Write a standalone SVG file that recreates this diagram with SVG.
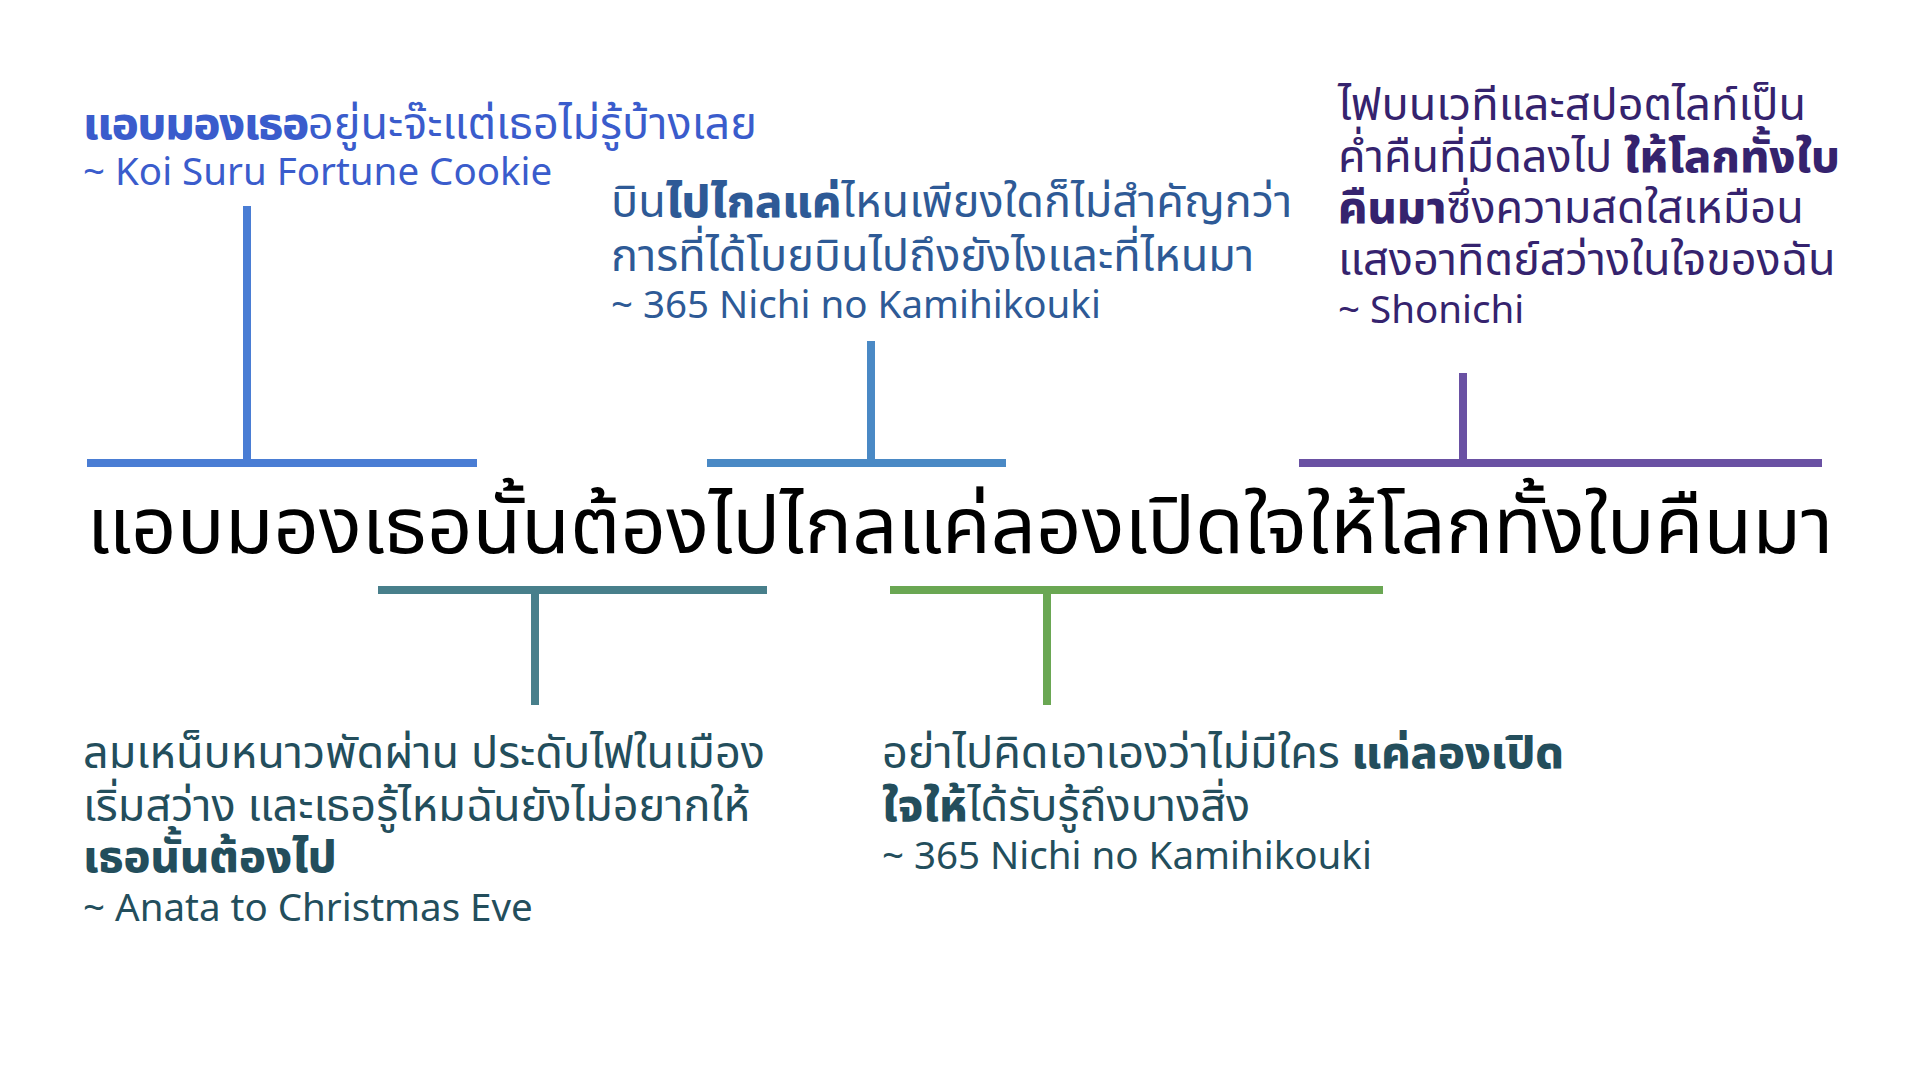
<svg xmlns="http://www.w3.org/2000/svg" width="1920" height="1080" viewBox="0 0 1920 1080">
<style>
text{font-family:"Noto Sans Thai","Noto Sans","DejaVu Sans",sans-serif;font-size:45px}
.b{font-weight:800}
.lat{font-size:38.5px}
.title{font-size:79.5px;fill:#000}
.q1{fill:#3a5ccc}.q2{fill:#2e5a96}.q3{fill:#35236e}.q4{fill:#234e5c}
.br{fill:none;stroke-width:8}
</style>
<rect width="1920" height="1080" fill="#fff"/>
<g id="connectors">
<path class="br" stroke="#4a7dd4" d="M87 463H477M247 463V206"/>
<path class="br" stroke="#4a89c5" d="M707 463H1006M871 463V341"/>
<path class="br" stroke="#6a51a3" d="M1299 463H1822M1463 463V373"/>
<path class="br" stroke="#487f8b" d="M378 590H767M535 590V705"/>
<path class="br" stroke="#6aa753" d="M890 590H1383M1047 590V705"/>
</g>
<g id="title"><text class="title" x="960" y="553" text-anchor="middle">แอบมองเธอนั้นต้องไปไกลแค่ลองเปิดใจให้โลกทั้งใบคืนมา</text></g>
<g id="quote1" class="q1">
<text x="83" y="139"><tspan class="b" letter-spacing="-1.2">แอบมองเธอ</tspan>อยู่นะจ๊ะแต่เธอไม่รู้บ้างเลย</text>
<text class="lat" x="83" y="185">~ Koi Suru Fortune Cookie</text>
</g>
<g id="quote2" class="q2">
<text x="611" y="217">บิน<tspan class="b">ไปไกลแค่</tspan>ไหนเพียงใดก็ไม่สำคัญกว่า</text>
<text x="611" y="271">การที่ได้โบยบินไปถึงยังไงและที่ไหนมา</text>
<text class="lat" x="611" y="318">~ 365 Nichi no Kamihikouki</text>
</g>
<g id="quote3" class="q3">
<text x="1338" y="120">ไฟบนเวทีและสปอตไลท์เป็น</text>
<text x="1338" y="172">ค่ำคืนที่มืดลงไป <tspan class="b">ให้โลกทั้งใบ</tspan></text>
<text x="1338" y="223"><tspan class="b">คืนมา</tspan>ซึ่งความสดใสเหมือน</text>
<text x="1338" y="275">แสงอาทิตย์สว่างในใจของฉัน</text>
<text class="lat" x="1338" y="323">~ Shonichi</text>
</g>
<g id="quote4" class="q4">
<text x="83" y="768">ลมเหน็บหนาวพัดผ่าน ประดับไฟในเมือง</text>
<text x="83" y="821">เริ่มสว่าง และเธอรู้ไหมฉันยังไม่อยากให้</text>
<text x="83" y="872" class="b">เธอนั้นต้องไป</text>
<text class="lat" x="83" y="921">~ Anata to Christmas Eve</text>
</g>
<g id="quote5" class="q4">
<text x="882" y="768">อย่าไปคิดเอาเองว่าไม่มีใคร <tspan class="b">แค่ลองเปิด</tspan></text>
<text x="882" y="821"><tspan class="b">ใจให้</tspan>ได้รับรู้ถึงบางสิ่ง</text>
<text class="lat" x="882" y="869">~ 365 Nichi no Kamihikouki</text>
</g>
</svg>
